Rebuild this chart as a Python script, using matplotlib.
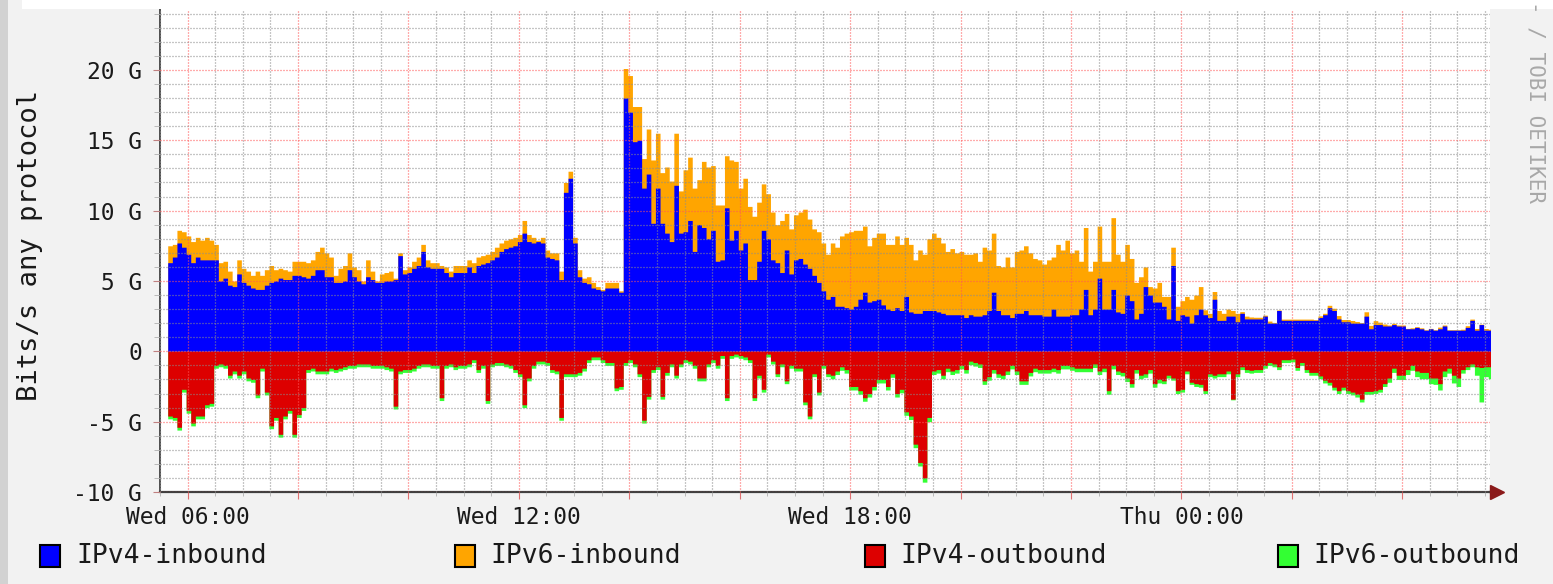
import numpy as np
import matplotlib
matplotlib.use('Agg')
import matplotlib.pyplot as plt
from matplotlib.patches import Rectangle

# 5 minute samples in Gbit/s, first sample starts Wed ~05:38 (hours since Wed 00:00)
start_hour = 5.64
step_minutes = 5

ipv4_in = [
    6.3, 6.7, 7.7, 7.4, 6.9, 6.3, 6.7, 6.5, 6.5, 6.5, 6.5, 5.0, 5.2, 4.7, 4.6, 5.5, 4.9, 4.7, 4.5, 4.4, 4.4, 4.7, 4.9, 5.0,
    5.2, 5.1, 5.1, 5.4, 5.4, 5.3, 5.2, 5.4, 5.8, 5.8, 5.3, 5.3, 4.9, 4.9, 5.0, 5.8, 5.3, 5.0, 4.8, 5.3, 5.1, 4.9, 4.9, 5.0,
    5.0, 5.1, 6.8, 5.5, 5.6, 5.9, 6.1, 7.1, 6.0, 5.9, 5.9, 5.9, 5.6, 5.3, 5.6, 5.6, 5.6, 6.0, 5.6, 6.1, 6.2, 6.3, 6.5, 6.7,
    7.1, 7.3, 7.4, 7.5, 7.8, 8.4, 7.8, 7.7, 7.8, 7.7, 6.7, 6.6, 6.5, 5.1, 11.3, 12.3, 7.7, 5.3, 4.9, 4.8, 4.5, 4.4, 4.3, 4.5,
    4.5, 4.5, 4.2, 18.0, 17.0, 14.9, 15.0, 11.6, 12.6, 9.1, 11.6, 9.1, 8.4, 7.8, 11.8, 8.4, 8.5, 9.3, 7.1, 9.0, 8.8, 8.0, 8.6, 6.4,
    6.5, 10.2, 7.9, 8.6, 7.2, 7.7, 5.1, 5.1, 6.4, 8.6, 8.0, 6.5, 6.3, 5.6, 7.2, 5.5, 6.5, 6.6, 6.2, 5.9, 5.4, 4.9, 4.3, 3.7,
    3.9, 3.2, 3.2, 3.1, 3.0, 3.2, 3.7, 4.2, 3.5, 3.6, 3.7, 3.3, 3.0, 2.9, 3.1, 2.9, 3.9, 2.8, 2.7, 2.7, 2.9, 2.9, 2.9, 2.8,
    2.7, 2.6, 2.6, 2.6, 2.6, 2.4, 2.6, 2.5, 2.5, 2.6, 2.9, 4.2, 2.9, 2.6, 2.6, 2.4, 2.7, 2.7, 2.9, 2.6, 2.6, 2.6, 2.5, 2.5,
    3.0, 2.5, 2.5, 2.5, 2.6, 2.6, 3.0, 4.4, 2.6, 3.0, 5.2, 3.0, 3.0, 4.4, 2.8, 2.7, 4.0, 3.6, 2.3, 2.7, 4.6, 4.0, 3.5, 3.5,
    3.2, 2.3, 6.1, 2.2, 2.6, 2.5, 2.0, 2.6, 3.0, 2.6, 2.4, 3.7, 2.2, 2.2, 2.5, 2.5, 2.1, 2.7, 2.3, 2.3, 2.3, 2.3, 2.5, 2.0,
    2.0, 2.9, 2.2, 2.2, 2.2, 2.2, 2.2, 2.2, 2.2, 2.2, 2.4, 2.6, 3.1, 2.9, 2.3, 2.1, 2.1, 2.0, 2.0, 2.0, 2.5, 1.6, 1.9, 1.9,
    1.8, 1.8, 1.9, 1.8, 1.8, 1.6, 1.6, 1.7, 1.6, 1.5, 1.6, 1.5, 1.6, 1.8, 1.5, 1.5, 1.5, 1.5, 1.7, 2.2, 1.5, 1.9, 1.5, 1.5,
]

ipv6_in = [
    1.2, 0.9, 0.9, 1.1, 1.3, 1.5, 1.4, 1.4, 1.6, 1.4, 1.1, 1.3, 1.2, 1.0, 0.4, 1.0, 1.0, 1.0, 0.9, 1.3, 1.0, 1.1, 1.2, 0.8,
    0.7, 0.7, 0.6, 1.0, 1.0, 1.1, 1.1, 1.1, 1.3, 1.6, 1.7, 1.4, 0.5, 1.0, 1.1, 1.2, 0.7, 0.8, 0.2, 1.2, 0.6, 0.1, 0.6, 0.6,
    0.7, 0.1, 0.2, 0.3, 0.4, 0.5, 0.6, 0.5, 0.5, 0.4, 0.4, 0.2, 0.4, 0.4, 0.5, 0.5, 0.5, 0.5, 0.7, 0.6, 0.6, 0.6, 0.6, 0.7,
    0.6, 0.6, 0.6, 0.6, 0.5, 0.9, 0.5, 0.4, 0.1, 0.4, 0.5, 0.4, 0.5, 0.6, 0.7, 0.5, 0.4, 0.5, 0.3, 0.5, 0.4, 0.2, 0.1, 0.4,
    0.4, 0.4, 0.1, 2.1, 2.6, 2.5, 2.4, 2.1, 3.2, 4.5, 3.9, 3.6, 4.7, 4.3, 3.7, 3.0, 4.4, 4.5, 4.5, 3.2, 4.7, 5.1, 4.6, 4.0,
    3.9, 3.7, 5.7, 4.9, 4.4, 4.6, 5.2, 4.5, 4.2, 3.3, 3.2, 3.4, 2.7, 3.7, 2.6, 3.2, 3.2, 3.3, 3.9, 3.5, 3.3, 3.6, 3.4, 3.2,
    3.8, 4.2, 5.0, 5.3, 5.5, 5.4, 4.9, 4.7, 4.0, 4.5, 4.7, 5.1, 4.6, 4.7, 5.1, 4.7, 4.2, 4.8, 3.8, 4.5, 4.0, 5.1, 5.5, 5.3,
    5.0, 4.5, 4.7, 4.4, 4.5, 4.5, 4.3, 4.5, 3.9, 4.8, 4.3, 4.2, 3.2, 3.4, 4.1, 3.6, 4.4, 4.5, 4.6, 4.4, 4.0, 3.9, 3.7, 4.0,
    3.7, 5.1, 4.7, 5.4, 4.4, 4.6, 3.4, 4.4, 3.1, 3.4, 3.7, 3.4, 3.4, 5.1, 4.1, 3.7, 3.6, 3.0, 2.6, 2.6, 1.4, 0.6, 1.0, 1.4,
    0.7, 1.6, 1.3, 1.0, 1.0, 1.4, 1.7, 1.4, 1.6, 0.35, 0.3, 0.55, 0.7, 0.5, 0.5, 0.4, 0.6, 0.12, 0.2, 0.14, 0.12, 0.12, 0.07, 0.15,
    0.05, 0.04, 0.09, 0.09, 0.09, 0.09, 0.09, 0.09, 0.09, 0.05, 0.12, 0.1, 0.17, 0.16, 0.24, 0.16, 0.16, 0.19, 0.12, 0.04, 0.31, 0.24, 0.28, 0.17,
    0.14, 0.07, 0.09, 0.07, 0.07, 0.03, 0.07, 0.05, 0.07, 0.03, 0.03, 0.03, 0.12, 0.07, 0.03, 0.03, 0.03, 0.07, 0.12, 0.09, 0.12, 0.03, 0.12, 0.07,
]

ipv4_out = [
    -4.6, -4.7, -5.4, -2.7, -4.2, -5.1, -4.6, -4.6, -3.8, -3.7, -1.0, -0.9, -1.0, -1.7, -1.4, -1.7, -1.4, -1.9, -2.0, -3.1, -1.2, -2.9, -5.3, -4.7,
    -5.9, -4.6, -4.2, -5.9, -4.5, -4.0, -1.3, -1.2, -1.4, -1.4, -1.4, -1.2, -1.3, -1.2, -1.1, -1.0, -1.0, -0.9, -0.9, -0.9, -1.0, -1.0, -1.0, -1.1,
    -1.2, -3.9, -1.4, -1.3, -1.3, -1.2, -1.0, -0.9, -0.9, -1.0, -1.0, -3.3, -1.0, -0.9, -1.1, -1.0, -1.0, -0.9, -0.6, -1.3, -1.0, -3.5, -0.9, -0.8,
    -0.8, -0.9, -1.0, -1.3, -1.6, -3.8, -1.9, -1.0, -0.7, -0.7, -0.8, -1.3, -1.4, -4.7, -1.6, -1.6, -1.6, -1.5, -1.2, -0.6, -0.4, -0.4, -0.6, -0.8,
    -0.8, -2.6, -2.5, -0.8, -0.6, -0.9, -1.6, -4.9, -3.2, -1.3, -1.1, -3.2, -1.5, -0.9, -1.7, -0.9, -0.6, -0.7, -1.0, -1.9, -1.9, -0.9, -0.6, -1.0,
    -0.3, -3.3, -0.3, -0.2, -0.3, -0.4, -0.6, -3.3, -1.7, -2.7, -0.2, -0.7, -1.6, -0.9, -2.1, -1.0, -1.2, -1.2, -3.6, -4.6, -1.6, -2.9, -1.0, -1.6,
    -1.7, -1.4, -1.1, -1.3, -2.5, -2.5, -2.8, -3.3, -3.0, -2.5, -2.0, -2.0, -2.5, -1.6, -3.0, -2.7, -4.3, -4.6, -6.6, -7.9, -9.0, -4.7, -1.4, -1.3,
    -1.7, -1.2, -1.4, -1.3, -1.0, -1.3, -0.7, -0.8, -0.9, -2.1, -1.8, -1.3, -1.6, -1.7, -1.4, -1.0, -1.4, -2.1, -2.1, -1.5, -1.2, -1.3, -1.3, -1.3,
    -1.2, -1.3, -1.0, -1.0, -1.1, -1.2, -1.2, -1.2, -1.2, -0.9, -1.4, -1.2, -2.8, -1.0, -1.4, -1.5, -1.9, -2.3, -1.3, -1.7, -1.6, -1.3, -2.3, -2.0,
    -2.1, -1.7, -1.9, -2.8, -2.7, -1.4, -2.2, -2.3, -2.35, -2.8, -1.6, -1.7, -1.6, -1.6, -1.4, -3.4, -1.6, -1.1, -1.3, -1.35, -1.3, -1.3, -1.0, -0.8,
    -0.9, -1.1, -0.6, -0.6, -0.55, -1.15, -0.8, -1.3, -1.5, -1.5, -1.75, -2.05, -2.2, -2.55, -2.8, -2.55, -2.8, -2.9, -3.05, -3.4, -2.85, -2.85, -2.8, -2.7,
    -2.3, -1.9, -1.2, -1.7, -1.7, -1.3, -1.0, -1.4, -1.5, -1.5, -1.9, -1.9, -2.3, -1.4, -1.2, -1.7, -1.9, -1.3, -1.1, -0.9, -1.1, -1.15, -1.1, -1.1,
]

ipv6_out = [
    -0.2, -0.2, -0.2, -0.2, -0.2, -0.2, -0.2, -0.2, -0.2, -0.2, -0.2, -0.2, -0.2, -0.2, -0.2, -0.2, -0.2, -0.2, -0.2, -0.2, -0.2, -0.2, -0.2, -0.2,
    -0.2, -0.2, -0.2, -0.2, -0.2, -0.2, -0.2, -0.2, -0.2, -0.2, -0.2, -0.2, -0.2, -0.2, -0.2, -0.2, -0.2, -0.2, -0.2, -0.2, -0.2, -0.2, -0.2, -0.2,
    -0.2, -0.2, -0.2, -0.2, -0.2, -0.2, -0.2, -0.2, -0.2, -0.2, -0.2, -0.2, -0.2, -0.2, -0.2, -0.2, -0.2, -0.2, -0.2, -0.2, -0.2, -0.2, -0.2, -0.2,
    -0.2, -0.2, -0.2, -0.2, -0.2, -0.2, -0.2, -0.2, -0.2, -0.2, -0.2, -0.2, -0.2, -0.2, -0.2, -0.2, -0.2, -0.2, -0.2, -0.2, -0.2, -0.2, -0.2, -0.2,
    -0.2, -0.2, -0.2, -0.2, -0.2, -0.2, -0.2, -0.2, -0.2, -0.2, -0.2, -0.2, -0.2, -0.2, -0.2, -0.2, -0.2, -0.2, -0.2, -0.2, -0.2, -0.2, -0.2, -0.2,
    -0.2, -0.2, -0.2, -0.2, -0.2, -0.2, -0.2, -0.2, -0.2, -0.2, -0.2, -0.2, -0.2, -0.2, -0.2, -0.2, -0.2, -0.2, -0.2, -0.2, -0.2, -0.2, -0.2, -0.2,
    -0.25, -0.25, -0.25, -0.25, -0.25, -0.25, -0.25, -0.25, -0.25, -0.25, -0.25, -0.25, -0.25, -0.25, -0.25, -0.25, -0.25, -0.25, -0.25, -0.25, -0.3, -0.3, -0.25, -0.25,
    -0.25, -0.25, -0.25, -0.25, -0.25, -0.25, -0.25, -0.25, -0.25, -0.25, -0.25, -0.25, -0.25, -0.25, -0.25, -0.25, -0.25, -0.25, -0.25, -0.25, -0.25, -0.25, -0.25, -0.25,
    -0.25, -0.25, -0.25, -0.25, -0.25, -0.25, -0.25, -0.25, -0.25, -0.25, -0.25, -0.25, -0.25, -0.25, -0.25, -0.25, -0.25, -0.25, -0.25, -0.25, -0.25, -0.25, -0.25, -0.25,
    -0.2, -0.2, -0.15, -0.2, -0.2, -0.2, -0.15, -0.2, -0.2, -0.2, -0.2, -0.2, -0.2, -0.2, -0.2, -0.05, -0.2, -0.2, -0.2, -0.2, -0.2, -0.2, -0.2, -0.2,
    -0.2, -0.2, -0.2, -0.2, -0.2, -0.2, -0.2, -0.2, -0.2, -0.2, -0.2, -0.2, -0.2, -0.2, -0.2, -0.2, -0.2, -0.2, -0.2, -0.2, -0.2, -0.2, -0.2, -0.2,
    -0.2, -0.3, -0.3, -0.3, -0.3, -0.35, -0.35, -0.4, -0.45, -0.45, -0.4, -0.45, -0.45, -0.4, -0.35, -0.55, -0.6, -0.25, -0.2, -0.2, -0.6, -2.45, -0.7, -0.85,
]

series_names = ['IPv4-inbound', 'IPv6-inbound', 'IPv4-outbound', 'IPv6-outbound']
series_colors = ['#0000ff', '#ffa500', '#dd0000', '#33ff33']

x_label_hours = [6, 12, 18, 24]
x_labels = ['Wed 06:00', 'Wed 12:00', 'Wed 18:00', 'Thu 00:00']
y_ticks = [-10, -5, 0, 5, 10, 15, 20]
y_labels = ['-10 G', '-5 G', '0', '5 G', '10 G', '15 G', '20 G']

W, H = 1553, 584
mono = 'DejaVu Sans Mono'

fig = plt.figure(figsize=(W / 100, H / 100), dpi=100, facecolor='#f2f2f2')

# page decorations round the graph (left border, white strip on top)
fig.add_artist(Rectangle((0, 0), 8 / W, 1, transform=fig.transFigure, color='#d2d2d2', lw=0))
fig.add_artist(Rectangle((22 / W, 1 - 9 / H), 1, 9 / H, transform=fig.transFigure, color='white', lw=0))

ax = fig.add_axes([160 / W, 92 / H, 1330 / W, 483 / H])
ax.set_facecolor('white')

n = len(ipv4_in)
t = start_hour + np.arange(n + 1) * step_minutes / 60.0


def edges(v):
    v = np.asarray(v, dtype=float)
    return np.append(v, v[-1])


v4i = edges(ipv4_in)
v6i = edges(ipv6_in)
v4o = edges(ipv4_out)
v6o = edges(ipv6_out)

# stacked areas: draw the stack total first, then the lower layer on top
ax.fill_between(t, 0, v4i + v6i, step='post', color=series_colors[1], lw=0, zorder=1)
ax.fill_between(t, 0, v4i, step='post', color=series_colors[0], lw=0, zorder=1.1)
ax.fill_between(t, 0, v4o + v6o, step='post', color=series_colors[3], lw=0, zorder=1)
ax.fill_between(t, 0, v4o, step='post', color=series_colors[2], lw=0, zorder=1.1)

x_left = 6 + (160 - 182) / 55.45
x_right = 6 + (1490 - 182) / 55.45
ax.set_xlim(x_left, x_right)
ax.set_ylim(-10, 24.33)

# grid: gray every 30 min / 1 G, red every 2 h / 5 G, drawn over the data like rrdtool
x_major = np.arange(6, 30, 2)
ax.set_xticks(x_major)
ax.set_xticklabels([x_labels[x_label_hours.index(h)] if h in x_label_hours else '' for h in x_major])
ax.set_xticks(np.arange(5.5, 30, 0.5), minor=True)
ax.set_yticks(y_ticks)
ax.set_yticklabels(y_labels)
ax.set_yticks(np.arange(-10, 25, 1), minor=True)

ax.set_axisbelow(False)
ax.grid(which='minor', color=(0.55, 0.55, 0.55, 0.55), linestyle=(0, (0.8, 1.6)), lw=0.9, zorder=3)
ax.grid(which='major', color=(1.0, 0.35, 0.35, 0.7), linestyle=(0, (0.8, 1.6)), lw=0.9, zorder=3)

for lab in ax.get_xticklabels() + ax.get_yticklabels():
    lab.set_family(mono)
    lab.set_fontsize(16.5)
    lab.set_color('#1a1a1a')

ax.tick_params(axis='x', which='major', length=5, color='#e07070', pad=5)
ax.tick_params(axis='x', which='minor', length=3, color='#b0b0b0')
ax.tick_params(axis='y', which='major', length=5, color='#c08080', pad=8)
ax.tick_params(axis='y', which='minor', length=4, color='#b0b0b0')

for s in ['top', 'right']:
    ax.spines[s].set_visible(False)
ax.spines['left'].set_color('#404040')
ax.spines['left'].set_linewidth(1.3)
ax.spines['bottom'].set_color('#404040')
ax.spines['bottom'].set_linewidth(1.6)

# x axis arrow at the right end
arrow_x = 6 + (1497 - 182) / 55.45
ax.plot([x_right, arrow_x], [-10, -10], color='#404040', lw=1.6, clip_on=False, zorder=5)
ax.plot([arrow_x], [-10], marker='>', color='#8b1a1a', markersize=10, clip_on=False, zorder=6)

# vertical axis title
fig.text(30 / W, 1 - 245 / H, 'Bits/s any protocol', rotation=90, ha='center', va='center',
         family=mono, fontsize=19.5, color='#1a1a1a')

# watermark on the right (only its lower part is visible in the crop)
fig.text(1536 / W, 1 - 203 / H, '- / TOBI OETIKER', rotation=270, ha='center', va='bottom',
         family=mono, fontsize=15, color='#a8a8a8')

# legend
legend_box_x = [40, 455, 865, 1278]
legend_text_x = [76, 490, 900, 1313]
for name, col, bx, tx in zip(series_names, series_colors, legend_box_x, legend_text_x):
    fig.add_artist(Rectangle((bx / W, 1 - 567 / H), 20 / W, 22 / H, transform=fig.transFigure,
                             facecolor=col, edgecolor='black', lw=1.5))
    fig.text(tx / W, 1 - 556 / H, name, ha='left', va='center', family=mono, fontsize=19, color='#1a1a1a')

fig.savefig('out.png', dpi=100, facecolor=fig.get_facecolor())
